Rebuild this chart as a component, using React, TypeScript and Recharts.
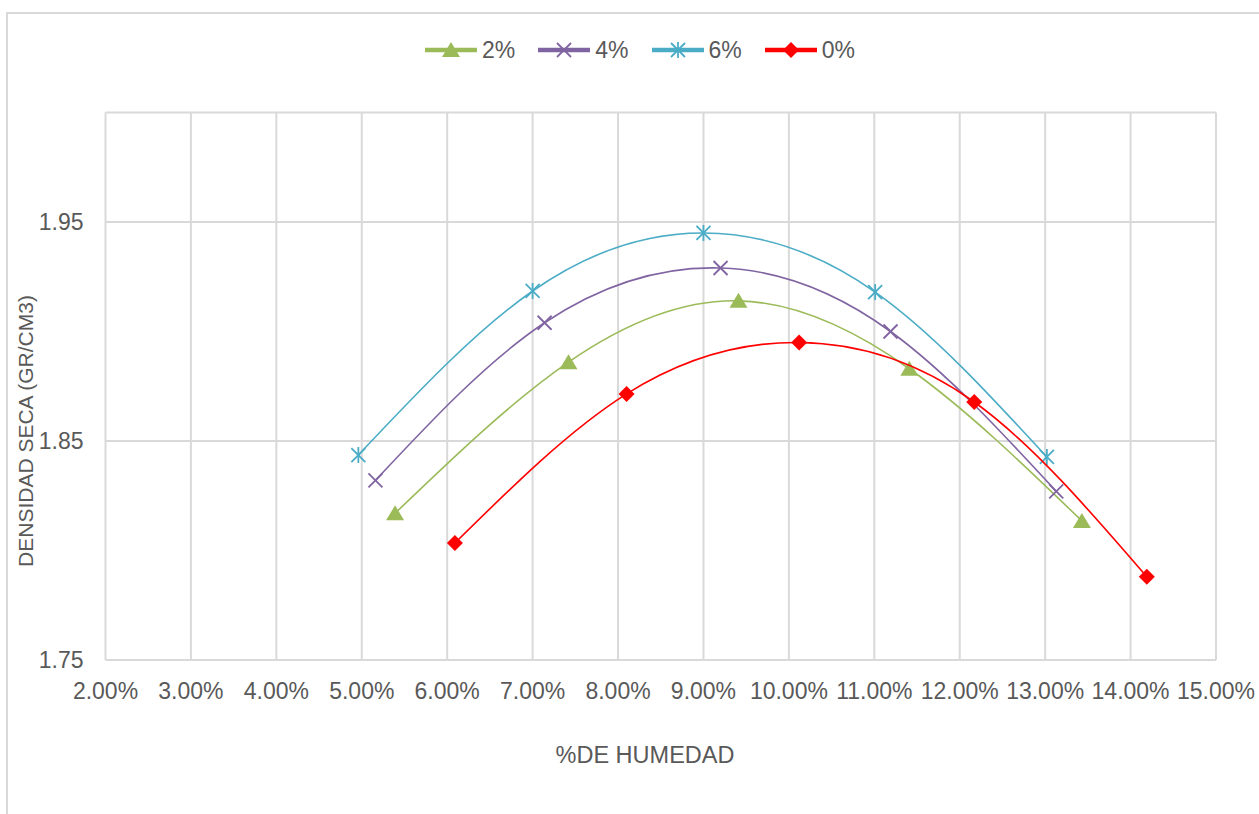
import { ScatterChart, Scatter, XAxis, YAxis, CartesianGrid, Legend, Label } from 'recharts';

const FONT = '"Liberation Sans", Arial, sans-serif';
const TEXT = '#595959';
const GRID = '#d9d9d9';

const xTicks = [0.02, 0.03, 0.04, 0.05, 0.06, 0.07, 0.08, 0.09, 0.1, 0.11, 0.12, 0.13, 0.14, 0.15];
const yTicks = [1.75, 1.85, 1.95];

// humedad (fraction) / densidad seca (gr/cm3) per mix
const humedad2 = [0.0539, 0.0742, 0.0941, 0.1141, 0.1343];
const densidad2 = [1.817, 1.886, 1.914, 1.883, 1.8135];
const humedad4 = [0.0516, 0.0714, 0.092, 0.1119, 0.1313];
const densidad4 = [1.832, 1.904, 1.929, 1.9, 1.827];
const humedad6 = [0.0496, 0.07, 0.09, 0.1101, 0.1302];
const densidad6 = [1.8436, 1.9185, 1.945, 1.918, 1.8427];
const humedad0 = [0.0609, 0.081, 0.1012, 0.1217, 0.1419];
const densidad0 = [1.8034, 1.8715, 1.895, 1.8678, 1.788];

const toPoints = (xs: number[], ys: number[]) => xs.map((x, i) => ({ x, y: ys[i] }));

type MarkerProps = { cx?: number; cy?: number; color: string };

function TriangleMark({ cx = 0, cy = 0, color }: MarkerProps) {
  return <polygon points={`${cx},${cy - 8} ${cx + 9},${cy + 7} ${cx - 9},${cy + 7}`} fill={color} />;
}

function CrossMark({ cx = 0, cy = 0, color }: MarkerProps) {
  return (
    <g stroke={color} strokeWidth={1.8}>
      <line x1={cx - 7} y1={cy - 7} x2={cx + 7} y2={cy + 7} />
      <line x1={cx - 7} y1={cy + 7} x2={cx + 7} y2={cy - 7} />
    </g>
  );
}

function StarMark({ cx = 0, cy = 0, color }: MarkerProps) {
  return (
    <g stroke={color} strokeWidth={1.8}>
      <line x1={cx - 7} y1={cy - 7} x2={cx + 7} y2={cy + 7} />
      <line x1={cx - 7} y1={cy + 7} x2={cx + 7} y2={cy - 7} />
      <line x1={cx} y1={cy - 8} x2={cx} y2={cy + 8} />
    </g>
  );
}

function DiamondMark({ cx = 0, cy = 0, color }: MarkerProps) {
  return <polygon points={`${cx},${cy - 8} ${cx + 8},${cy} ${cx},${cy + 8} ${cx - 8},${cy}`} fill={color} />;
}

const series = [
  { name: '2%', color: '#9BBB59', data: toPoints(humedad2, densidad2), Mark: TriangleMark },
  { name: '4%', color: '#8064A2', data: toPoints(humedad4, densidad4), Mark: CrossMark },
  { name: '6%', color: '#4BACC6', data: toPoints(humedad6, densidad6), Mark: StarMark },
  { name: '0%', color: '#FF0000', data: toPoints(humedad0, densidad0), Mark: DiamondMark },
];

function LegendContent() {
  return (
    <div style={{ display: 'flex', alignItems: 'center', fontFamily: FONT, fontSize: 23, color: TEXT }}>
      {series.map(({ name, color, Mark }) => (
        <div key={name} style={{ display: 'flex', alignItems: 'center', marginRight: 23 }}>
          <svg width={52} height={20}>
            <line x1={0} y1={10} x2={52} y2={10} stroke={color} strokeWidth={4.5} />
            <Mark cx={26} cy={10} color={color} />
          </svg>
          <span style={{ marginLeft: 5, lineHeight: '24px' }}>{name}</span>
        </div>
      ))}
    </div>
  );
}

const pct = (v: number) => `${(v * 100).toFixed(2)}%`;

export default function App() {
  return (
    <div style={{ position: 'absolute', left: 0, top: 0, width: 1259, height: 814, background: '#fff' }}>
      <div
        style={{
          position: 'absolute',
          left: 6,
          top: 12,
          width: 1253,
          height: 802,
          borderLeft: `2px solid ${GRID}`,
          borderTop: `2px solid ${GRID}`,
          boxSizing: 'border-box',
        }}
      />
      <div style={{ position: 'absolute', left: 0, top: 0 }}>
        <ScatterChart width={1259} height={814} margin={{ top: 112.5, right: 43, bottom: 44, left: 45.5 }}>
          <CartesianGrid stroke={GRID} strokeWidth={2} />
          <XAxis
            type="number"
            dataKey="x"
            domain={[0.02, 0.15]}
            ticks={xTicks}
            tickFormatter={pct}
            axisLine={false}
            tickLine={false}
            tickSize={0}
            tickMargin={23}
            height={110}
            interval={0}
            tick={{ fill: TEXT, fontSize: 23, fontFamily: FONT }}
          >
            <Label
              content={() => (
                <text x={645} y={755} textAnchor="middle" dominantBaseline="central" fill={TEXT} fontSize={23.5} fontFamily={FONT}>
                  %DE HUMEDAD
                </text>
              )}
            />
          </XAxis>
          <YAxis
            type="number"
            dataKey="y"
            domain={[1.75, 2.0]}
            ticks={yTicks}
            tickFormatter={(v: number) => v.toFixed(2)}
            axisLine={false}
            tickLine={false}
            tickSize={0}
            tickMargin={22}
            width={60}
            interval={0}
            tick={{ fill: TEXT, fontSize: 23, fontFamily: FONT }}
          >
            <Label
              content={() => (
                <text
                  x={25}
                  y={431}
                  transform="rotate(-90 25 431)"
                  textAnchor="middle"
                  dominantBaseline="central"
                  fill={TEXT}
                  fontSize={21}
                  fontFamily={FONT}
                >
                  DENSIDAD SECA (GR/CM3)
                </text>
              )}
            />
          </YAxis>
          <Legend
            layout="horizontal"
            verticalAlign="middle"
            align="center"
            content={<LegendContent />}
            wrapperStyle={{ top: 38, left: 425, width: 'auto', height: 24 }}
          />
          {series.map(({ name, color, data, Mark }) => (
            <Scatter
              key={name}
              name={name}
              data={data}
              fill={color}
              line={{ stroke: color, strokeWidth: 1.6 }}
              lineJointType="natural"
              shape={(p: any) => <Mark cx={p.cx} cy={p.cy} color={color} />}
              isAnimationActive={false}
            />
          ))}
        </ScatterChart>
      </div>
    </div>
  );
}
